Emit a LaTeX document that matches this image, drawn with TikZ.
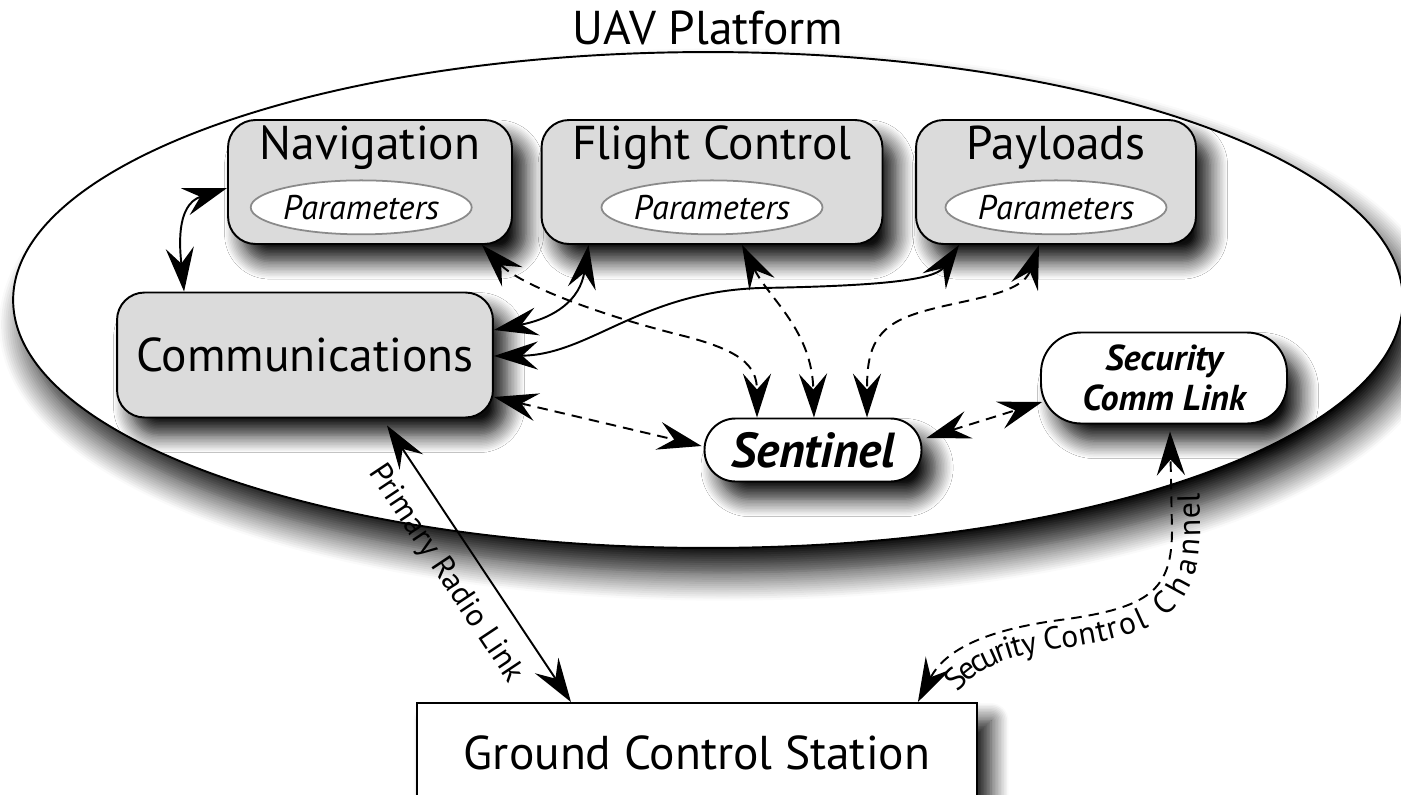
\documentclass[tikz,border=0pt]{standalone}
\usepackage{fontspec}
\setmainfont{PT Sans}
\usetikzlibrary{arrows.meta,positioning,calc,shapes.geometric,shadows.blur,decorations.text}

\definecolor{boxgray}{HTML}{DBDBDB}
\definecolor{rimgray}{HTML}{8A8A8A}
\newcommand\headfont{\fontsize{27}{30}\selectfont}
\newcommand\chanfont{\fontsize{18}{20}\selectfont}

\begin{document}
\begin{tikzpicture}[x=0.02cm,y=-0.02cm,
    >={Stealth[length=25pt,width=16pt,inset=9pt]},
    boxshadow/.style={blur shadow={shadow xshift=8pt,shadow yshift=-10pt,
      shadow blur radius=10pt,shadow blur steps=12,shadow opacity=95}},
    platform/.style={ellipse,draw,line width=1.1pt,fill=white,inner sep=0pt,
      minimum width=27.8cm,minimum height=9.92cm,
      blur shadow={shadow xshift=8pt,shadow yshift=-14pt,
      shadow blur radius=16pt,shadow blur steps=14,shadow opacity=100}},
    module/.style={draw,line width=1.1pt,fill=boxgray,rounded corners=0.55cm,
      minimum height=2.48cm,font=\headfont,boxshadow},
    headtext/.style={font=\headfont,inner sep=2pt,text height=19pt,text depth=6pt},
    param/.style={ellipse,draw=rimgray,line width=1pt,fill=white,inner sep=0pt,
      minimum width=3.76cm,minimum height=1.08cm,font=\fontsize{19.5}{21}\selectfont\itshape},
    pill/.style={draw,line width=1.1pt,fill=white,rounded corners=0.62cm,
      minimum width=4.34cm,minimum height=1.26cm,
      font=\fontsize{28}{30}\selectfont\bfseries\itshape,boxshadow},
    commlink/.style={draw,line width=1.1pt,fill=white,rounded corners=0.8cm,
      minimum width=4.92cm,minimum height=1.82cm,align=center,
      font=\fontsize{20.5}{23}\selectfont\bfseries\itshape,boxshadow},
    station/.style={draw,line width=1.1pt,fill=white,minimum width=11.2cm,
      minimum height=2cm,font=\headfont,boxshadow},
    link/.style={line width=1.1pt,<->},
    dlink/.style={link,dash pattern=on 6pt off 4pt},
    linklabel/.style={font=\chanfont}]

  \useasboundingbox (0,0) rectangle (1401,795);

  % platform
  \node[platform] (uav) at (708,300) {};
  \node[font=\headfont, above=0pt of uav.north] (uavtitle) {UAV Platform};

  % subsystems with their parameters
  \node[module, minimum width=5.68cm] (nav) at (370,182) {};
  \node[module, minimum width=6.82cm] (fc) at (712,182) {};
  \node[module, minimum width=5.6cm] (pay) at (1056,182) {};
  \node[headtext, below=2pt of nav.north] (navhead) {Navigation};
  \node[headtext, below=2pt of fc.north] (fchead) {Flight Control};
  \node[headtext, below=2pt of pay.north] (payhead) {Payloads};
  \node[param, below=3pt of navhead, xshift=-5pt] (navpar) {Parameters};
  \node[param, below=3pt of fchead] (fcpar) {Parameters};
  \node[param, below=3pt of payhead] (paypar) {Parameters};

  \node[module, minimum width=7.52cm, minimum height=2.5cm] (comm) at (305,355) {Communications};
  \node[pill] (sent) at (813,450) {Sentinel};
  \node[commlink] (scl) at (1164,378) {Security\\Comm Link};
  \node[station] (gcs) at (697,753) {Ground Control Station};

  % links to communications
  \draw[link] ($(nav.west)+(0,6)$) .. controls (175,205) and (180,250) .. ($(comm.north west)+(68,0)$);
  \draw[link] ($(fc.south west)+(48,0)$) .. controls (580,300) and (555,318) .. ($(comm.east)+(0,-25)$);
  \draw[link] ($(comm.east)+(0,1)$) .. controls (590,355) and (640,292) .. (760,288)
    .. controls (880,286) and (935,280) .. ($(pay.south west)+(44,0)$);

  % links to sentinel
  \draw[dlink] ($(nav.south east)+(-31,0)$) .. controls (520,285) and (600,315) .. (680,335)
    .. controls (740,350) and (757,365) .. ($(sent.north)+(-56,0)$);
  \draw[dlink] ($(fc.south)+(30,0)$) .. controls (770,300) and (812,330) .. ($(sent.north)+(1,0)$);
  \draw[dlink] ($(pay.south)+(-17,0)$) .. controls (1020,300) and (940,300) .. (900,320)
    .. controls (870,335) and (867,360) .. ($(sent.north)+(54,0)$);
  \draw[dlink] ($(comm.east)+(0,42)$) -- ($(sent.west)+(-2,-4)$);
  \draw[dlink] ($(sent.east)+(4,-12)$) -- ($(scl.west)+(2,24)$);

  % ground links
  \draw[link] ($(comm.south)+(82,7)$) -- node[linklabel, sloped, below=7pt, pos=0.47] {Primary Radio Link}
    ($(gcs.north)+(-126,0)$);
  \draw[dlink] ($(gcs.north east)+(-60,0)$) .. controls (945,650) and (985,630) .. (1060,620)
    .. controls (1150,608) and (1172,590) .. (1172,530) -- ($(scl.south)+(6,7)$);
  \path[decorate, decoration={text along path, raise=-16pt, text align={left indent=20pt},
      text={|\chanfont|Security Control Channel}}]
    ($(gcs.north east)+(-60,0)$) .. controls (945,650) and (985,630) .. (1060,620)
    .. controls (1150,608) and (1172,590) .. (1172,530) -- ($(scl.south)+(6,7)$);
\end{tikzpicture}
\end{document}
